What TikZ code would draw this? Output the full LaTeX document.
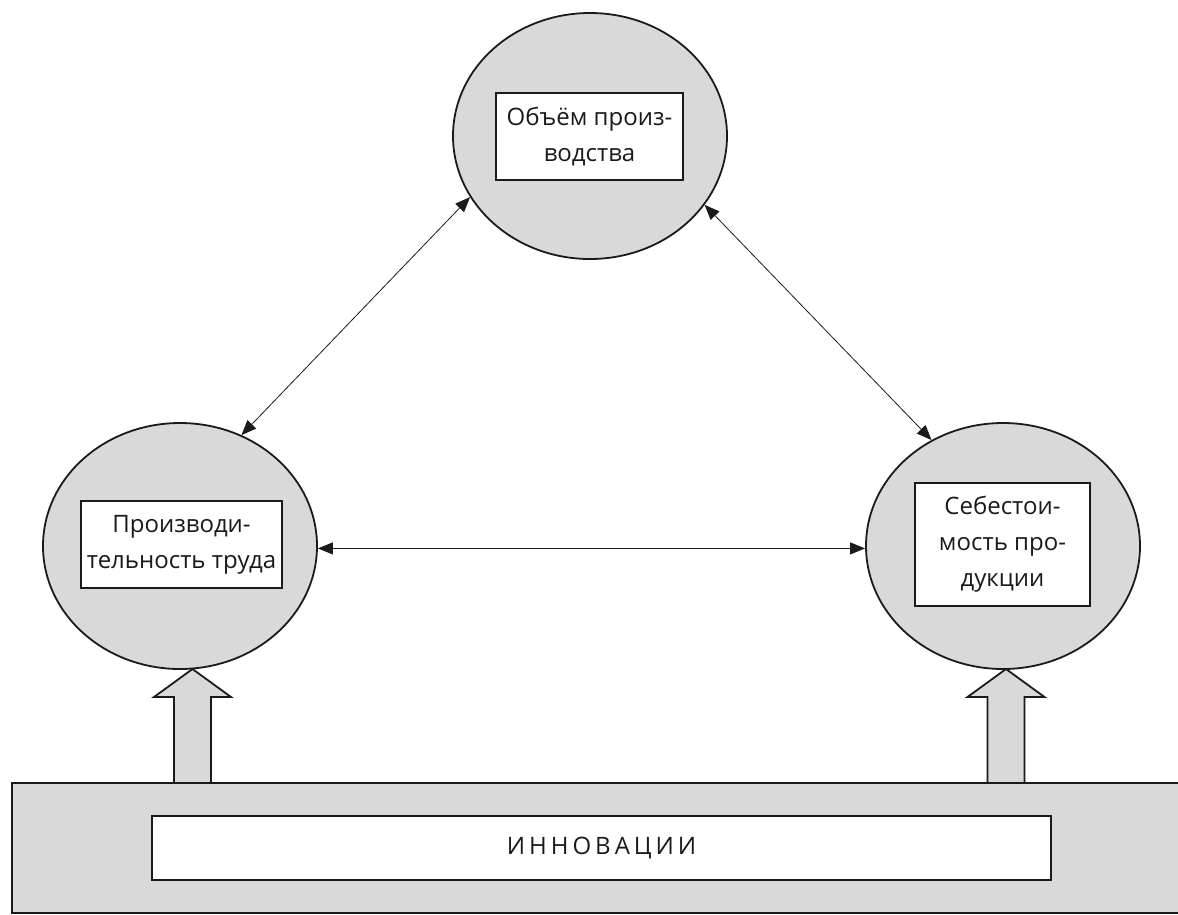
\documentclass[tikz,border=0pt]{standalone}
\usepackage{fontspec}
\setmainfont{Open Sans}
\usetikzlibrary{arrows.meta,shapes.geometric}
\definecolor{fillgray}{HTML}{D9D9D9}
\definecolor{ink}{HTML}{1A1A1A}
\begin{document}
\begin{tikzpicture}[x=1pt,y=-1pt,
  bubble/.style={ellipse,draw=ink,line width=1.8pt,fill=fillgray,minimum width=274pt,minimum height=246pt,inner sep=0pt},
  txtbox/.style={draw=ink,line width=1.8pt,fill=white,inner sep=0pt,align=center,font=\fontsize{24}{36}\selectfont,text=ink},
  link/.style={line width=0.8pt,draw=ink,{Triangle[length=15pt,width=12pt]}-{Triangle[length=15pt,width=12pt]}},
  blockup/.pic={\draw[draw=ink,line width=1.8pt,fill=fillgray,line join=miter]
      (-18.5,0) -- (-18.5,-86) -- (-38.5,-86) -- (0,-114) -- (38.5,-86) -- (18.5,-86) -- (18.5,0);},
  basebar/.style={draw=ink,line width=1.8pt,fill=fillgray}
]
\useasboundingbox (0,0) rectangle (1178,914);
\clip (0,0) rectangle (1178,914);

% ellipses
\node[bubble] (top) at (590,136) {};
\node[bubble] (left) at (180,546) {};
\node[bubble] (right) at (1003,546) {};

% text boxes
\node[txtbox,minimum width=187pt,minimum height=87pt] (topbox) at (589.5,136.5) {Объём произ-\\водства};
\node[txtbox,minimum width=201pt,minimum height=87pt] (leftbox) at (181.5,544.5) {Производи-\\тельность труда};
\node[txtbox,minimum width=175pt,minimum height=123pt] (rightbox) at (1002.5,544.5) {Себестои-\\мость про-\\дукции};

% connectors
\draw[link] (left.61) -- (top.207.5);
\draw[link] (top.-31) -- (right.124);
\draw[link] (left.-1) -- (right.181);

% block arrows
\coordinate (lbase) at (192.5,783);
\coordinate (rbase) at (1006,783);
\pic at (lbase) {blockup};
\pic at (rbase) {blockup};

% base bar
\draw[basebar] (12,783) rectangle (1200,913);
\node[txtbox,minimum width=899pt,minimum height=64pt] (innov) at (601.5,848)
  {И\kern4pt Н\kern4pt Н\kern4pt О\kern4pt В\kern4pt А\kern4pt Ц\kern4pt И\kern4pt И};
\end{tikzpicture}
\end{document}
